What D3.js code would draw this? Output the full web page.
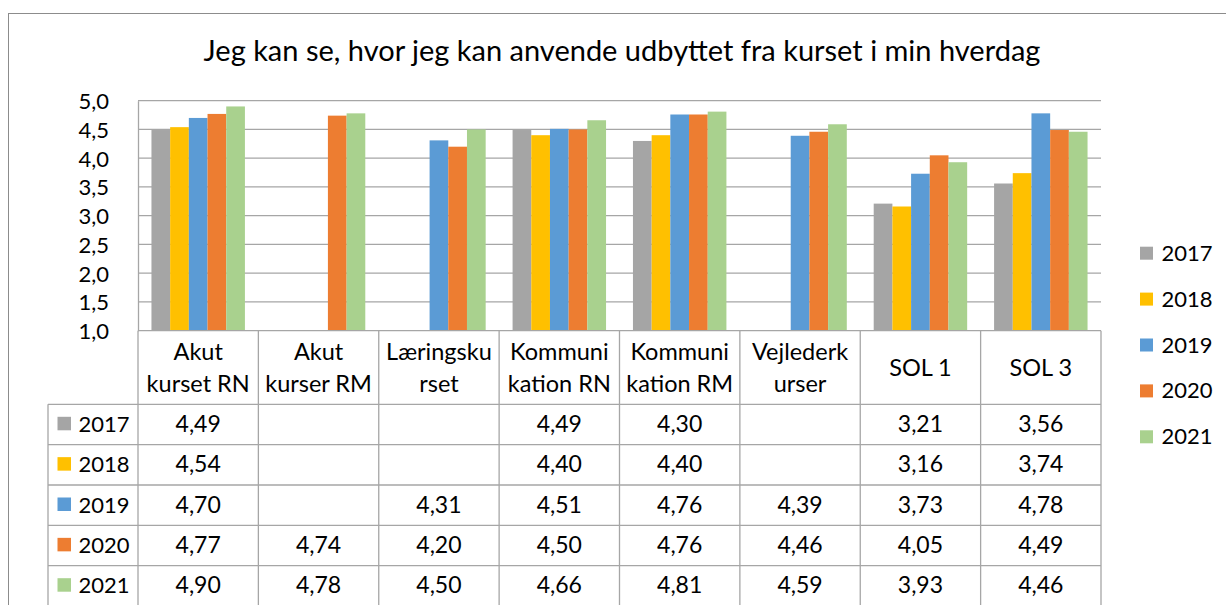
<!DOCTYPE html>
<html><head><meta charset="utf-8">
<script src="https://cdn.jsdelivr.net/npm/d3@7"></script>
<style>
body{margin:0;background:#fff}
svg{display:block}
text{font-family:Lato,"Open Sans",sans-serif;fill:#000}
</style>
</head><body>
<svg id="c" width="1226" height="605"></svg>
<script>
const title = "Jeg kan se, hvor jeg kan anvende udbyttet fra kurset i min hverdag";
const categories = ["Akut kurset RN","Akut kurser RM","Læringskurset","Kommunikation RN","Kommunikation RM","Vejlederkurser","SOL 1","SOL 3"];
const categoryLines = [["Akut","kurset RN"],["Akut","kurser RM"],["Læringsku","rset"],["Kommuni","kation RN"],["Kommuni","kation RM"],["Vejlederk","urser"],["SOL 1"],["SOL 3"]];
const years = ["2017","2018","2019","2020","2021"];
const v2017 = [4.49, null, null, 4.49, 4.30, null, 3.21, 3.56];
const v2018 = [4.54, null, null, 4.40, 4.40, null, 3.16, 3.74];
const v2019 = [4.70, null, 4.31, 4.51, 4.76, 4.39, 3.73, 4.78];
const v2020 = [4.77, 4.74, 4.20, 4.50, 4.76, 4.46, 4.05, 4.49];
const v2021 = [4.90, 4.78, 4.50, 4.66, 4.81, 4.59, 3.93, 4.46];
const yTicks = [1.0,1.5,2.0,2.5,3.0,3.5,4.0,4.5,5.0];
const colors = ["#A5A5A5","#FFC000","#5B9BD5","#ED7D31","#A9D18E"];

const series = [v2017,v2018,v2019,v2020,v2021];
const fmt = v => v==null ? "" : v.toFixed(2).replace(".",",");
const fmtTick = v => v.toFixed(1).replace(".",",");

const svg = d3.select("#c");
const gridColor = "#A6A6A6";

// outer border
svg.append("rect").attr("x",8.5).attr("y",13.5).attr("width",1240).attr("height",620)
  .attr("fill","none").attr("stroke","#8C8C8C").attr("stroke-width",1);

const L=138, R=1101, T=100.7, B=330.7;
const x = d3.scaleBand().domain(categories).range([L,R]).padding(0);
const xs = d3.scaleBand().domain(years).range([0,x.bandwidth()]).paddingInner(0).paddingOuter(0.72);
const y = d3.scaleLinear().domain([1,5]).range([B,T]);

// title
svg.append("text").attr("x",622).attr("y",60.5).attr("text-anchor","middle")
  .style("font-size","29px").text(title);

// gridlines
svg.append("g").selectAll("line").data(yTicks.slice(1)).join("line")
  .attr("x1",L).attr("x2",R).attr("y1",d=>y(d)).attr("y2",d=>y(d))
  .attr("stroke",gridColor).attr("stroke-width",1.3);

// y axis
const yAxis = d3.axisLeft(y).tickValues(yTicks).tickFormat(fmtTick).tickSize(0).tickPadding(29);
const ga = svg.append("g").attr("transform",`translate(${L},0)`).call(yAxis);
ga.select(".domain").attr("stroke",gridColor).attr("stroke-width",1.3);
ga.selectAll("text").style("font-size","22px").style("font-family","Lato").attr("dy","0.36em");

// bars
years.forEach((yr,i)=>{
  const data = series[i].map((v,j)=>({c:categories[j],v})).filter(d=>d.v!=null);
  svg.append("g").selectAll("rect").data(data).join("rect")
    .attr("x",d=>x(d.c)+xs(yr)).attr("width",xs.bandwidth())
    .attr("y",d=>y(d.v)).attr("height",d=>B-y(d.v))
    .attr("fill",colors[i]);
});

// table
const headerBottom = 404.3, rowH = 40.35;
const tbl = svg.append("g");
tbl.append("line").attr("x1",L).attr("x2",R).attr("y1",B).attr("y2",B).attr("stroke",gridColor).attr("stroke-width",1.3);
const vx = categories.map(c=>x(c)).concat([R]);
tbl.selectAll("line.v").data(vx).join("line").attr("class","v")
  .attr("x1",d=>d).attr("x2",d=>d).attr("y1",B).attr("y2",610)
  .attr("stroke",gridColor).attr("stroke-width",1.3);
tbl.append("line").attr("x1",48).attr("x2",48).attr("y1",headerBottom).attr("y2",610).attr("stroke",gridColor).attr("stroke-width",1.3);
const rowTops = years.map((d,i)=>headerBottom+i*rowH);
tbl.selectAll("line.h").data(rowTops.concat([headerBottom+5*rowH])).join("line").attr("class","h")
  .attr("x1",48).attr("x2",R).attr("y1",d=>d).attr("y2",d=>d)
  .attr("stroke",gridColor).attr("stroke-width",1.3);

// header text
categoryLines.forEach((lines,j)=>{
  const cx = x(categories[j]) + x.bandwidth()/2;
  const base = lines.length===2 ? [359.5,391.7] : [375.5];
  lines.forEach((t,k)=>{
    tbl.append("text").attr("x",cx).attr("y",base[k]).attr("text-anchor","middle")
      .style("font-size","23.5px").text(t);
  });
});

// rows
years.forEach((yr,i)=>{
  const top = rowTops[i];
  tbl.append("rect").attr("x",57.5).attr("y",top+12.5).attr("width",13.5).attr("height",13.5).attr("fill",colors[i]);
  tbl.append("text").attr("x",78.5).attr("y",top+27.6).style("font-size","22px").text(yr);
  series[i].forEach((v,j)=>{
    if(v==null) return;
    tbl.append("text").attr("x",x(categories[j])+x.bandwidth()/2).attr("y",top+27.6)
      .attr("text-anchor","middle").style("font-size","23px").text(fmt(v));
  });
});

// legend
const leg = svg.append("g");
years.forEach((yr,i)=>{
  const base = 260.7 + i*45.9;
  leg.append("rect").attr("x",1140).attr("y",base-14).attr("width",13).attr("height",13).attr("fill",colors[i]);
  leg.append("text").attr("x",1161.5).attr("y",base).style("font-size","22px").text(yr);
});
</script>
</body></html>
